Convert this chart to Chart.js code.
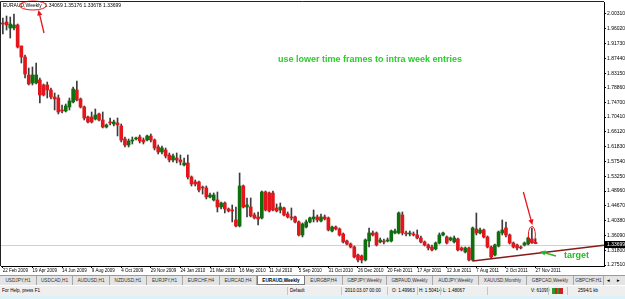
<!DOCTYPE html>
<html>
<head>
<meta charset="utf-8">
<script src="https://cdn.jsdelivr.net/npm/chart.js@4.4.0/dist/chart.umd.min.js"></script>
<style>
body { margin:0; width:625px; height:299px; overflow:hidden; background:#fff; font-family:"Liberation Sans", Arial, sans-serif; }
#wrap { position:relative; width:625px; height:275px; }
#tabs { position:absolute; left:0; top:275px; width:625px; height:10px; background:#e4e4e4; border-top:1px solid #9a9a9a; box-sizing:border-box; }
.tab { position:absolute; top:0; height:9px; font-size:4.7px; line-height:9px; color:#333; text-align:center; border-right:1px solid #a8a8a8; box-sizing:border-box; white-space:nowrap; }
.tab.on { background:#fff; color:#000; font-weight:bold; border:1px solid #7a7a7a; border-top:none; }
#status { position:absolute; left:0; top:286px; width:625px; height:10px; background:#efefef; }
.st { position:absolute; top:0; font-size:4.6px; line-height:10px; color:#000; white-space:nowrap; }
.sep { position:absolute; top:1px; width:0; height:8px; border-left:1px solid #c4c4c4; }
#strip { position:absolute; left:0; top:296px; width:625px; height:3px; background:#dcf2fb; }
</style>
</head>
<body>
<div id="wrap"><canvas id="chart" width="625" height="275"></canvas></div>
<div id="tabs"></div>
<div id="status"></div>
<div id="strip"></div>
<script>
// weekly EURAUD candles
const opens = [
  1.9770,1.9799,1.9625,1.9625,1.9712,1.9103,1.8784,1.8262,1.8030,1.8030,
  1.8117,1.7972,1.7972,1.7827,1.7624,1.7595,1.7247,1.7218,1.7334,1.7479,
  1.7827,1.7566,1.7334,1.7044,1.7044,1.6986,1.7131,1.6957,1.6754,1.6899,
  1.6841,1.6870,1.6783,1.6406,1.6232,1.6348,1.6406,1.6464,1.6377,1.6377,
  1.6493,1.6377,1.6174,1.6029,1.6087,1.5942,1.5797,1.5855,1.5797,1.5652,
  1.5710,1.5304,1.5159,1.5159,1.4996,1.4985,1.4724,1.4637,1.4637,1.4434,
  1.4550,1.4376,1.4347,1.4057,1.3883,1.5043,1.4434,1.4434,1.4202,1.4144,
  1.4115,1.4869,1.4840,1.4840,1.4405,1.4347,1.4405,1.4231,1.4144,1.4144,
  1.3999,1.3622,1.3854,1.3999,1.4086,1.4144,1.4028,1.4144,1.4115,1.3738,
  1.3854,1.3796,1.3651,1.3448,1.3361,1.3274,1.3042,1.3013,1.2897,1.3448,
  1.3680,1.3680,1.3419,1.3448,1.3448,1.3448,1.3680,1.3680,1.4202,1.3680,
  1.3651,1.3651,1.3622,1.3535,1.3419,1.3332,1.3274,1.3216,1.3390,1.3622,
  1.3564,1.3477,1.3419,1.3506,1.3245,1.3129,1.3245,1.2897,1.3796,1.3680,
  1.3767,1.3564,1.3274,1.3042,1.3303,1.3680,1.3825,1.3622,1.3390,1.3332,
  1.3274,1.3332,1.3361,1.3506,1.34069
];
const highs = [
  1.9915,1.9973,1.9944,2.0031,1.9741,1.9103,1.8842,1.8465,1.8494,1.8610,
  1.8175,1.8001,1.8059,1.7885,1.7740,1.7682,1.7392,1.7421,1.7595,1.7914,
  1.8088,1.7595,1.7363,1.7073,1.7189,1.7276,1.7160,1.7189,1.6841,1.7015,
  1.6957,1.7015,1.6841,1.6464,1.6406,1.6464,1.6464,1.6522,1.6435,1.6522,
  1.6551,1.6406,1.6232,1.6203,1.6145,1.6000,1.5971,1.6000,1.5942,1.5855,
  1.5942,1.5333,1.5217,1.5188,1.50414,1.5043,1.4840,1.4840,1.4869,1.4579,
  1.4579,1.4405,1.4492,1.4434,1.5420,1.5072,1.4695,1.4695,1.4260,1.4289,
  1.4898,1.4898,1.4869,1.4898,1.4521,1.4550,1.4434,1.4289,1.4405,1.4173,
  1.4028,1.3970,1.4057,1.4144,1.4347,1.4202,1.4231,1.4202,1.4144,1.3883,
  1.3883,1.3825,1.3680,1.3477,1.3390,1.3303,1.3071,1.3042,1.3506,1.3825,
  1.3738,1.3709,1.3535,1.3506,1.3535,1.3767,1.3796,1.4289,1.4289,1.3738,
  1.3738,1.3709,1.3767,1.3593,1.3448,1.3361,1.3332,1.3419,1.3680,1.3709,
  1.3593,1.3564,1.3593,1.3535,1.3274,1.3274,1.3274,1.3854,1.4260,1.3825,
  1.3796,1.3593,1.3303,1.3361,1.3738,1.4057,1.3999,1.3651,1.3419,1.3361,
  1.3303,1.3419,1.3564,1.3825,1.35176
];
const lows = [
  1.9451,1.9567,1.9335,1.9567,1.9045,1.8610,1.8175,1.7972,1.7972,1.8001,
  1.7450,1.7653,1.7595,1.7566,1.7247,1.7131,1.7160,1.7189,1.7247,1.7450,
  1.7508,1.7305,1.6957,1.6870,1.6870,1.6957,1.6928,1.6725,1.6725,1.6812,
  1.6783,1.6493,1.6319,1.6174,1.6174,1.6261,1.6377,1.6290,1.6261,1.6348,
  1.6319,1.6087,1.5971,1.5971,1.5855,1.5739,1.5739,1.5710,1.5652,1.5623,
  1.5246,1.5043,1.5043,1.4869,1.48067,1.4666,1.4695,1.4608,1.4289,1.4376,
  1.4260,1.4289,1.3999,1.3854,1.3854,1.4405,1.4144,1.4144,1.4086,1.3912,
  1.4086,1.4318,1.4289,1.4318,1.4289,1.4260,1.4173,1.4115,1.4057,1.3970,
  1.3593,1.3564,1.3825,1.3970,1.3999,1.3999,1.3999,1.4057,1.3738,1.3709,
  1.3767,1.3593,1.3390,1.3332,1.3245,1.2955,1.2839,1.2810,1.2868,1.3274,
  1.3593,1.3303,1.3390,1.3361,1.3419,1.3419,1.3651,1.3651,1.3622,1.3593,
  1.3593,1.3593,1.3506,1.3390,1.3303,1.3187,1.3158,1.3187,1.3361,1.3593,
  1.3361,1.3448,1.3390,1.3158,1.3158,1.3100,1.2868,1.2868,1.3622,1.3651,
  1.3535,1.3245,1.2955,1.3013,1.3274,1.3622,1.3564,1.3361,1.3245,1.3187,
  1.3216,1.3303,1.3332,1.3390,1.33678
];
const closes = [
  1.9741,1.9712,1.9741,1.9712,1.9074,1.8784,1.8291,1.8001,1.8262,1.8262,
  1.7682,1.7682,1.7827,1.7624,1.7566,1.7189,1.7218,1.7363,1.7508,1.7856,
  1.7537,1.7334,1.7015,1.6899,1.6899,1.7102,1.6957,1.6754,1.6812,1.6870,
  1.6899,1.6812,1.6377,1.6232,1.6348,1.6377,1.6435,1.6348,1.6319,1.6493,
  1.6377,1.6145,1.6029,1.6145,1.5913,1.5797,1.5913,1.5797,1.5739,1.5710,
  1.5304,1.5101,1.5101,1.4927,1.4984,1.4724,1.4782,1.4782,1.4434,1.4550,
  1.4376,1.4318,1.4318,1.3883,1.5043,1.4434,1.4492,1.4173,1.4115,1.4086,
  1.4869,1.4347,1.4318,1.4347,1.4318,1.4434,1.4202,1.4144,1.4115,1.3999,
  1.3622,1.3941,1.3999,1.4115,1.4144,1.4057,1.4144,1.4086,1.3767,1.3854,
  1.3796,1.3622,1.3419,1.3361,1.3274,1.2984,1.2897,1.2897,1.3477,1.3680,
  1.3622,1.3332,1.3477,1.3419,1.3477,1.3738,1.3738,1.4260,1.3680,1.3651,
  1.3680,1.3622,1.3535,1.3419,1.3332,1.3245,1.3187,1.3390,1.3622,1.3680,
  1.3390,1.3535,1.3535,1.3187,1.3187,1.3245,1.2897,1.3825,1.3680,1.3767,
  1.3564,1.3274,1.2984,1.3332,1.3709,1.3767,1.3622,1.3390,1.3274,1.3245,
  1.3245,1.3390,1.3535,1.3419,1.33699
];
const yTicks = [2.00310,1.96020,1.91730,1.87440,1.83150,1.78860,1.74700,1.70410,1.66120,
  1.61830,1.57540,1.53250,1.48960,1.44670,1.40380,1.36090,1.31800,1.27510];
const hLineLevel = 1.3332;          // yellow horizontal line
const trendFrom = [127, 1.2868];    // [week index, price]
const trendTo = [154, 1.3216];
const circledBar = 143;

// weekly categories from 22 Feb 2009, with empty weeks on the right like the terminal
const months = ['Jan','Feb','Mar','Apr','May','Jun','Jul','Aug','Sep','Oct','Nov','Dec'];
const weeks = [];
for (let i = 0; i < 163; i++) {
  const d = new Date(Date.UTC(2009, 1, 22) + i * 7 * 86400000);
  weeks.push(d.getUTCDate() + ' ' + months[d.getUTCMonth()] + ' ' + d.getUTCFullYear());
}

const bull = '#0d700d', bear = '#e3161b';
const small = '"Liberation Sans", Arial, sans-serif';

function arrow(ctx, x1, y1, x2, y2, color, w, head) {
  const a = Math.atan2(y2 - y1, x2 - x1);
  ctx.save();
  ctx.strokeStyle = color; ctx.fillStyle = color; ctx.lineWidth = w;
  ctx.beginPath();
  ctx.moveTo(x1, y1);
  ctx.lineTo(x2 - Math.cos(a) * head * 0.8, y2 - Math.sin(a) * head * 0.8);
  ctx.stroke();
  ctx.beginPath();
  ctx.moveTo(x2, y2);
  ctx.lineTo(x2 - head * Math.cos(a - 0.45), y2 - head * Math.sin(a - 0.45));
  ctx.lineTo(x2 - head * Math.cos(a + 0.45), y2 - head * Math.sin(a + 0.45));
  ctx.closePath();
  ctx.fill();
  ctx.restore();
}

const annot = {
  id: 'annot',
  beforeDatasetsDraw(chart) {
    const {ctx, chartArea: a, scales: {y}} = chart;
    const yy = Math.round(y.getPixelForValue(hLineLevel)) + 0.5;
    ctx.save();
    ctx.strokeStyle = '#f3d46c'; ctx.lineWidth = 1;
    ctx.beginPath(); ctx.moveTo(a.left, yy); ctx.lineTo(a.right, yy); ctx.stroke();
    ctx.restore();
  },
  afterDatasetsDraw(chart) {
    const {ctx, chartArea: a, scales: {x, y}} = chart;
    ctx.save();
    // trend line (ray to the right edge)
    const x1 = x.getPixelForValue(trendFrom[0]), y1 = y.getPixelForValue(trendFrom[1]);
    const x2 = x.getPixelForValue(trendTo[0]), y2 = y.getPixelForValue(trendTo[1]);
    const k = (y2 - y1) / (x2 - x1);
    ctx.strokeStyle = '#861b1b'; ctx.lineWidth = 1.5;
    ctx.beginPath(); ctx.moveTo(x1, y1); ctx.lineTo(a.right, y1 + k * (a.right - x1)); ctx.stroke();

    // circled candle + red arrow
    const cx = x.getPixelForValue(circledBar);
    const cy = y.getPixelForValue(1.3622);
    ctx.strokeStyle = '#e8141c'; ctx.lineWidth = 1;
    ctx.beginPath(); ctx.ellipse(cx, cy, 3.5, 8.5, 0, 0, Math.PI * 2); ctx.stroke();
    arrow(ctx, cx - 8.5, cy - 43, cx + 0.5, cy - 10, '#e8141c', 1.3, 6);

    // green arrow + target
    arrow(ctx, 556, 256, 540, 251.5, '#27b827', 1.6, 6);
    ctx.fillStyle = '#1fbf1f';
    ctx.font = 'bold 9px ' + small;
    ctx.textBaseline = 'middle'; ctx.textAlign = 'left';
    ctx.fillText('target', 564, 256);

    // note
    ctx.fillStyle = '#2ccc2c';
    ctx.textAlign = 'center';
    ctx.fillText('use lower time frames to intra week entries', 370, 60);

    // header text
    ctx.fillStyle = '#000';
    ctx.font = '5px ' + small;
    ctx.textAlign = 'left';
    ctx.fillText('EURAUD,Weekly  1.34069 1.35176 1.33678 1.33699', 3, 6);
    ctx.strokeStyle = '#e8141c'; ctx.lineWidth = 1;
    ctx.beginPath(); ctx.ellipse(33, 5.5, 13.5, 4.5, 0, 0, Math.PI * 2); ctx.stroke();
    arrow(ctx, 44, 33, 38.5, 10, '#e8141c', 1.3, 6);
    ctx.restore();
  },
  afterDraw(chart) {
    const {ctx, chartArea: a, scales: {y}} = chart;
    ctx.save();
    ctx.strokeStyle = '#222'; ctx.lineWidth = 1;
    ctx.beginPath();
    ctx.moveTo(0.5, a.bottom); ctx.lineTo(0.5, 1.5); ctx.lineTo(a.right, 1.5);
    ctx.stroke();
    // current price label
    const py = Math.round(y.getPixelForValue(closes[closes.length - 1]));
    ctx.fillStyle = '#000';
    ctx.fillRect(a.right + 1, py - 3, 20, 7);
    ctx.fillStyle = '#fff';
    ctx.font = '5px ' + small;
    ctx.textBaseline = 'middle';
    ctx.fillText(closes[closes.length - 1].toFixed(5), a.right + 3, py + 0.5);
    ctx.restore();
  }
};

new Chart(document.getElementById('chart'), {
  type: 'bar',
  data: {
    labels: weeks,
    datasets: [
      {
        label: 'body',
        data: opens.map((o, i) => [o, closes[i]]),
        backgroundColor: c => closes[c.dataIndex] >= opens[c.dataIndex] ? bull : bear,
        barThickness: 3,
        minBarLength: 1,
        grouped: false,
        order: 0
      },
      {
        label: 'wick',
        data: lows.map((l, i) => [l, highs[i]]),
        backgroundColor: '#3c3c3c',
        barThickness: 1,
        grouped: false,
        order: 1
      }
    ]
  },
  options: {
    responsive: false,
    animation: false,
    devicePixelRatio: 1,
    layout: { padding: { top: 2, left: 1, right: 0, bottom: 0 } },
    plugins: { legend: { display: false }, tooltip: { enabled: false } },
    scales: {
      x: {
        offset: true,
        grid: {
          offset: false,
          drawOnChartArea: false,
          tickLength: 2,
          color: c => (c.index % 8 === 0 && c.index < opens.length) ? '#000' : 'rgba(0,0,0,0)'
        },
        border: { display: true, color: '#000' },
        ticks: {
          autoSkip: false, maxRotation: 0, minRotation: 0, align: 'start', padding: 0,
          color: '#000',
          font: { size: 4.5, family: small },
          callback: (v, i) => (i % 8 === 0 && i < opens.length) ? weeks[i] : ''
        },
        afterFit: s => { s.height = 9; s.paddingLeft = 0; s.paddingRight = 0; }
      },
      y: {
        position: 'right',
        min: 1.2722,
        max: 2.0379,
        grid: { drawOnChartArea: false, tickLength: 2, color: '#000' },
        border: { display: true, color: '#000' },
        afterBuildTicks: s => { s.ticks = yTicks.map(v => ({ value: v })); },
        ticks: {
          padding: 1, color: '#000',
          font: { size: 5, family: small },
          callback: v => v.toFixed(5)
        },
        afterFit: s => { s.width = 21; s.paddingTop = 0; s.paddingBottom = 0; }
      }
    }
  },
  plugins: [annot]
});

// terminal tab strip and status bar
const tabs = [
  [0, 37, 'USDJPY,H1'], [37, 73, 'USDCAD,H1'], [73, 110, 'AUDUSD,H1'], [110, 147, 'NZDUSD,H1'],
  [147, 183, 'EURJPY,H1'], [183, 220, 'EURCHF,H4'], [220, 257, 'EURCAD,H4'], [257, 305, 'EURAUD,Weekly'],
  [305, 343, 'EURGBP,H4'], [343, 387, 'GBPJPY,Weekly'], [387, 433, 'GBPAUD,Weekly'], [433, 479, 'AUDJPY,Weekly'],
  [479, 527, 'XAUUSD,Monthly'], [527, 574, 'GBPCAD,Weekly'], [574, 604, 'GBPCHF,H1']
];
const tabBar = document.getElementById('tabs');
tabs.forEach(t => {
  const d = document.createElement('div');
  d.className = 'tab' + (t[2] === 'EURAUD,Weekly' ? ' on' : '');
  d.style.left = t[0] + 'px';
  d.style.width = (t[1] - t[0]) + 'px';
  d.textContent = t[2];
  tabBar.appendChild(d);
});
[[606, '\u25C4'], [616, '\u25BA']].forEach(b => {
  const d = document.createElement('div');
  d.className = 'st';
  d.style.left = b[0] + 'px'; d.style.top = '0px'; d.style.lineHeight = '9px';
  d.textContent = b[1];
  tabBar.appendChild(d);
});

const statusItems = [
  [2, 'For Help, press F1'], [290, 'Default'], [345, '2010.03.07 00:00'], [392, 'O: 1.49963'],
  [419, 'H: 1.50414'], [443, 'L: 1.48067'], [531, 'V: 61099'], [578, '2594/1 kb']
];
const seps = [287, 341, 387, 417, 440, 487, 548, 567];
const sb = document.getElementById('status');
statusItems.forEach(s => {
  const d = document.createElement('div');
  d.className = 'st'; d.style.left = s[0] + 'px'; d.textContent = s[1];
  sb.appendChild(d);
});
seps.forEach(x => {
  const d = document.createElement('div');
  d.className = 'sep'; d.style.left = x + 'px';
  sb.appendChild(d);
});
const icon = document.createElement('div');
icon.style.cssText = 'position:absolute;left:552px;top:2px;width:11px;height:6px;' +
  'background:linear-gradient(90deg,#2a9a2a 0 25%,#c22 25% 45%,#2a9a2a 45% 65%,#c22 65% 100%);';
sb.appendChild(icon);
</script>
</body>
</html>
